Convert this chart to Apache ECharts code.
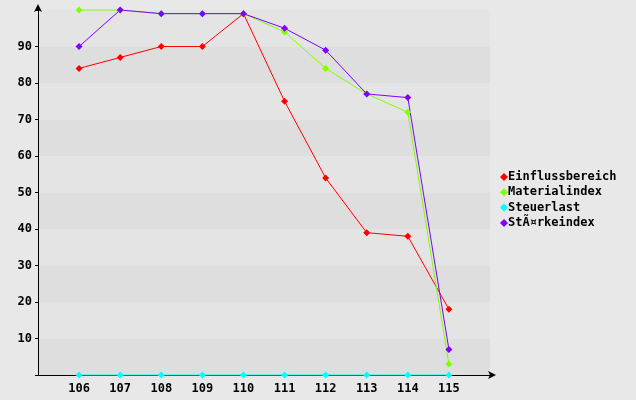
<!DOCTYPE html>
<html><head><meta charset="utf-8">
<script src="https://cdn.jsdelivr.net/npm/echarts@6/dist/echarts.min.js"></script>
<style>html,body{margin:0;padding:0;background:#e8e8e8}#c{width:636px;height:400px}</style>
</head><body><div id="c"></div>
<script>
const categories = [106,107,108,109,110,111,112,113,114,115];
const einflussbereich = [84,87,90,90,99,75,54,39,38,18];
const materialindex = [100,100,99,99,99,94,84,77,72,3];
const steuerlast = [0,0,0,0,0,0,0,0,0,0];
const staerkeindex = [90,100,99,99,99,95,89,77,76,7];
const seriesNames = ['Einflussbereich','Materialindex','Steuerlast','StÃ¤rkeindex'];
const colors = ['#ff0000','#80ff00','#00ffff','#8000ff'];
const font = 'DejaVu Sans Mono';
function mk(name, vals, color){
  return {name, type:'line', data: categories.map((c,i)=>[c, vals[i]]),
    symbol:'diamond', symbolSize:7, clip:false,
    lineStyle:{color, width:1}, itemStyle:{color}, emphasis:{disabled:true}};
}
const chart = echarts.init(document.getElementById('c'));
chart.setOption({
  backgroundColor:'#e8e8e8',
  animation:false,
  color: colors,
  grid:{left:38, top:10, width:452, height:365},
  legend:{orient:'vertical', left:500, top:171, padding:0, itemGap:3.3, itemWidth:8, itemHeight:8,
    icon:'diamond', data:seriesNames,
    textStyle:{fontFamily:font, fontWeight:'bold', fontSize:12, color:'#000', padding:[0,0,0,-5]}},
  xAxis:{type:'value', min:105, max:116, interval:1,
    axisLine:{show:true, symbol:['none','arrow'], symbolSize:[6,8], symbolOffset:[0,6], lineStyle:{color:'#000', width:1}},
    axisTick:{show:false}, splitLine:{show:false},
    axisLabel:{margin:8, fontFamily:font, fontWeight:'bold', fontSize:12, color:'#000',
      formatter:v=> (v>105 && v<116) ? String(v) : ''}},
  yAxis:{type:'value', min:0, max:100, interval:10,
    axisLine:{show:true, symbol:['none','arrow'], symbolSize:[6,8], symbolOffset:[0,6], lineStyle:{color:'#000', width:1}},
    axisTick:{show:true, length:3, lineStyle:{color:'#000'}},
    splitLine:{show:false},
    splitArea:{show:true, areaStyle:{color:['#dedede','#e4e4e4']}},
    axisLabel:{margin:6, fontFamily:font, fontWeight:'bold', fontSize:12, color:'#000',
      formatter:v=> (v>0 && v<100) ? String(v) : ''}},
  series:[
    mk(seriesNames[0], einflussbereich, colors[0]),
    mk(seriesNames[1], materialindex, colors[1]),
    mk(seriesNames[2], steuerlast, colors[2]),
    mk(seriesNames[3], staerkeindex, colors[3])
  ]
});
</script></body></html>
